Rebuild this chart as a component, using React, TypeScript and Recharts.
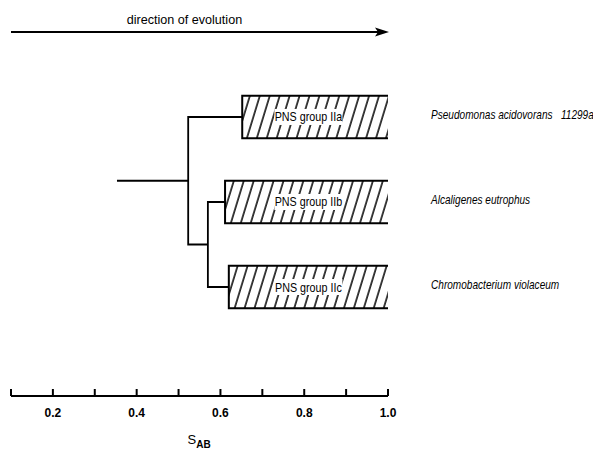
import { ComposedChart, Line, XAxis, YAxis, ReferenceArea, ReferenceLine } from "recharts";

// clusters (top to bottom) and where their hatched block starts on the S_AB scale
const groups = ["PNS group IIa", "PNS group IIb", "PNS group IIc"];
const species = [
  "Pseudomonas acidovorans\u00a0\u00a0 11299a",
  "Alcaligenes eutrophus",
  "Chromobacterium violaceum",
];
const rows = [0, 1, 2];
const barStart = [0.652, 0.611, 0.62];

// dendrogram joins (S_AB)
const rootStart = 0.353;
const joinAll = 0.523; // IIa joins IIb + IIc
const joinBC = 0.57; // IIb joins IIc

const sabTicks = [0.1, 0.2, 0.3, 0.4, 0.5, 0.6, 0.7, 0.8, 0.9, 1.0];
const sabLabels = [0.2, 0.4, 0.6, 0.8, 1.0];
const groupLabelAt = 0.81;
const arrowRow = -1;

const FONT = "'Liberation Sans', Arial, sans-serif";

const bcRow = (rows[1] + rows[2]) / 2;
const rootRow = (rows[0] + bcRow) / 2;

const treePaths = [
  [
    { x: rootStart, y: rootRow },
    { x: joinAll, y: rootRow },
  ],
  [
    { x: barStart[0], y: rows[0] },
    { x: joinAll, y: rows[0] },
    { x: joinAll, y: bcRow },
    { x: joinBC, y: bcRow },
  ],
  [
    { x: barStart[1], y: rows[1] },
    { x: joinBC, y: rows[1] },
    { x: joinBC, y: rows[2] },
    { x: barStart[2], y: rows[2] },
  ],
];

function HatchBar(props: any) {
  const { x, y, width, height, text, from } = props;
  const tx = x + ((groupLabelAt - from) / (1.0 - from)) * width;
  const ty = y + height / 2;
  return (
    <g>
      <defs>
        <pattern
          id="hatch"
          patternUnits="userSpaceOnUse"
          width={9.5}
          height={10}
          patternTransform="rotate(17)"
        >
          <line x1={1} y1={0} x2={1} y2={10} stroke="#000" strokeWidth={1.5} />
        </pattern>
      </defs>
      <rect x={x} y={y} width={width} height={height} fill="url(#hatch)" />
      <rect x={tx - 34} y={ty - 8} width={68} height={16} fill="#fff" />
      <path
        d={`M${x + width},${y} H${x} V${y + height} H${x + width}`}
        fill="none"
        stroke="#000"
        strokeWidth={2}
      />
      <text
        transform={`translate(${tx},${ty + 4.5}) scale(0.86,1)`}
        textAnchor="middle"
        fontFamily={FONT}
        fontSize={12.5}
        fill="#000"
      >
        {text}
      </text>
    </g>
  );
}

function SpeciesLabel(props: any) {
  const vb = props.viewBox;
  if (!vb) return null;
  const x = vb.x + vb.width + 43;
  const y = vb.y + vb.height / 2 + 2;
  return (
    <text
      transform={`translate(${x},${y}) scale(0.84,1)`}
      fontFamily={FONT}
      fontStyle="italic"
      fontSize={12}
      fill="#000"
    >
      {props.text}
    </text>
  );
}

function EvolutionArrow(props: any) {
  const { x1, y1, x2 } = props;
  const y = y1;
  return (
    <g>
      <line x1={x1} y1={y} x2={x2 - 8} y2={y} stroke="#000" strokeWidth={2} />
      <polygon
        points={`${x2 + 1},${y} ${x2 - 13},${y - 4.5} ${x2 - 10},${y} ${x2 - 13},${y + 4.5}`}
        fill="#000"
      />
      <text x={x1 + (x2 - x1) * 0.46} y={y - 8} textAnchor="middle" fontFamily={FONT} fontSize={12.6} fill="#000">
        direction of evolution
      </text>
    </g>
  );
}

function SabTick(props: any) {
  const { x, y, payload } = props;
  const v = payload.value;
  const show = sabLabels.some((l) => Math.abs(l - v) < 1e-6);
  return (
    <g>
      <line x1={x} y1={y - 7} x2={x} y2={y} stroke="#000" strokeWidth={2} />
      {show && (
        <text x={x} y={y + 21} textAnchor="middle" fontFamily={FONT} fontWeight="bold" fontSize={12} fill="#000">
          {v.toFixed(1)}
        </text>
      )}
    </g>
  );
}

function SabTitle(props: any) {
  const vb = props.viewBox || { x: 11, y: 396, width: 377, height: 55 };
  const cx = vb.x + vb.width / 2 - 12;
  return (
    <text x={cx} y={vb.y + 48} fontFamily={FONT} fontSize={13} fill="#000">
      S
      <tspan dy={4} fontSize={10} fontWeight="bold">
        AB
      </tspan>
    </text>
  );
}

export default function App() {
  return (
    <div style={{ position: "absolute", left: 0, top: 0, background: "#fff" }}>
      <ComposedChart width={593} height={451} margin={{ top: 0, right: 205, bottom: 0, left: 11 }}>
        <XAxis
          dataKey="x"
          type="number"
          domain={[0.1, 1.0]}
          allowDataOverflow
          ticks={sabTicks}
          interval={0}
          tickLine={false}
          tickSize={0}
          tickMargin={0}
          axisLine={{ stroke: "#000", strokeWidth: 2 }}
          tick={(p: any) => <SabTick {...p} />}
          height={55}
          label={{ content: (p: any) => <SabTitle {...p} /> }}
        />
        <YAxis hide type="number" dataKey="y" domain={[-1.376, 3.282]} allowDataOverflow reversed />
        <ReferenceLine
          segment={[
            { x: 0.1, y: arrowRow },
            { x: 1.0, y: arrowRow },
          ]}
          ifOverflow="visible"
          shape={(p: any) => <EvolutionArrow {...p} />}
        />
        {rows.map((r, i) => (
          <ReferenceArea
            key={groups[i]}
            x1={barStart[i]}
            x2={1.0}
            y1={r - 0.25}
            y2={r + 0.25}
            ifOverflow="visible"
            shape={(p: any) => <HatchBar {...p} text={groups[i]} from={barStart[i]} />}
            label={{ content: (p: any) => <SpeciesLabel {...p} text={species[i]} /> }}
          />
        ))}
        {treePaths.map((path, i) => (
          <Line
            key={i}
            data={path}
            dataKey="y"
            type="linear"
            stroke="#000"
            strokeWidth={1.8}
            dot={false}
            activeDot={false}
            isAnimationActive={false}
          />
        ))}
      </ComposedChart>
    </div>
  );
}
